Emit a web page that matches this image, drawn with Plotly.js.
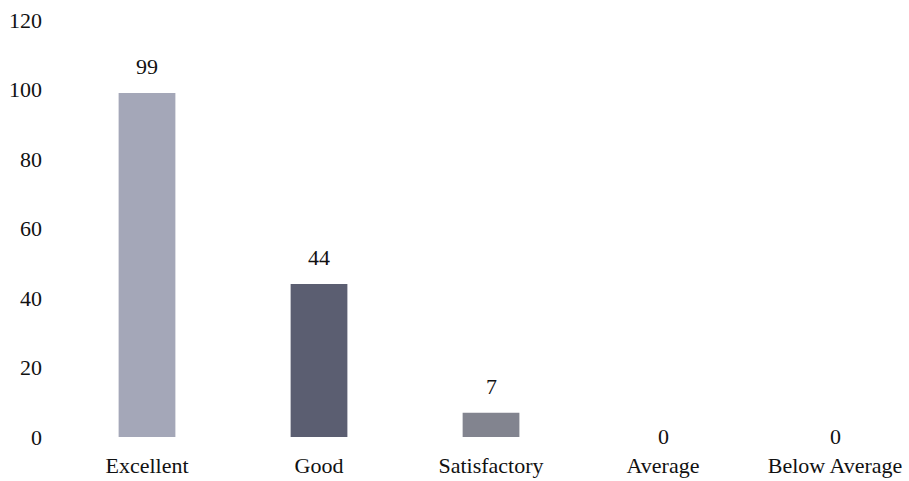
<!DOCTYPE html>
<html>
<head>
<meta charset="utf-8">
<script src="https://cdn.plot.ly/plotly-3.0.1.min.js"></script>
<style>html,body{margin:0;padding:0;background:#fff;}#chart{width:909px;height:481px;}</style>
</head>
<body>
<div id="chart"></div>
<script>
const categories = ["Excellent", "Good", "Satisfactory", "Average", "Below Average"];
const values = [99, 44, 7, 0, 0];
const barColors = ["#a4a7b8", "#5b5e71", "#82848f", "#82848f", "#82848f"];
const yTicks = [0, 20, 40, 60, 80, 100, 120];

const font = {family: "Liberation Serif, Times New Roman, serif", size: 22, color: "#111"};

const trace = {
  type: "bar",
  x: categories,
  y: values,
  marker: {color: barColors, line: {width: 0}},
  width: 0.33,
  hoverinfo: "none"
};

const annotations = categories.map((c, i) => ({
  x: c, y: values[i], xref: "x", yref: "y",
  text: String(values[i]), showarrow: false,
  yanchor: values[i] === 0 ? "middle" : "bottom",
  yshift: values[i] === 0 ? 1 : 12,
  font: font
}));

const layout = {
  width: 909, height: 481,
  margin: {l: 61, r: 0, t: 20, b: 44},
  paper_bgcolor: "#fff", plot_bgcolor: "#fff",
  showlegend: false,
  font: font,
  xaxis: {
    range: [-0.5, 4.43],
    showgrid: false, zeroline: false, showline: false,
    ticks: "", tickfont: font, ticklabelstandoff: 13
  },
  yaxis: {
    range: [0, 120],
    tickvals: yTicks, ticktext: yTicks.map(String),
    showgrid: false, zeroline: false, showline: false,
    ticks: "", tickfont: font, ticklabelstandoff: 18
  },
  annotations: annotations
};

Plotly.newPlot("chart", [trace], layout, {staticPlot: true, displayModeBar: false});
</script>
</body>
</html>
